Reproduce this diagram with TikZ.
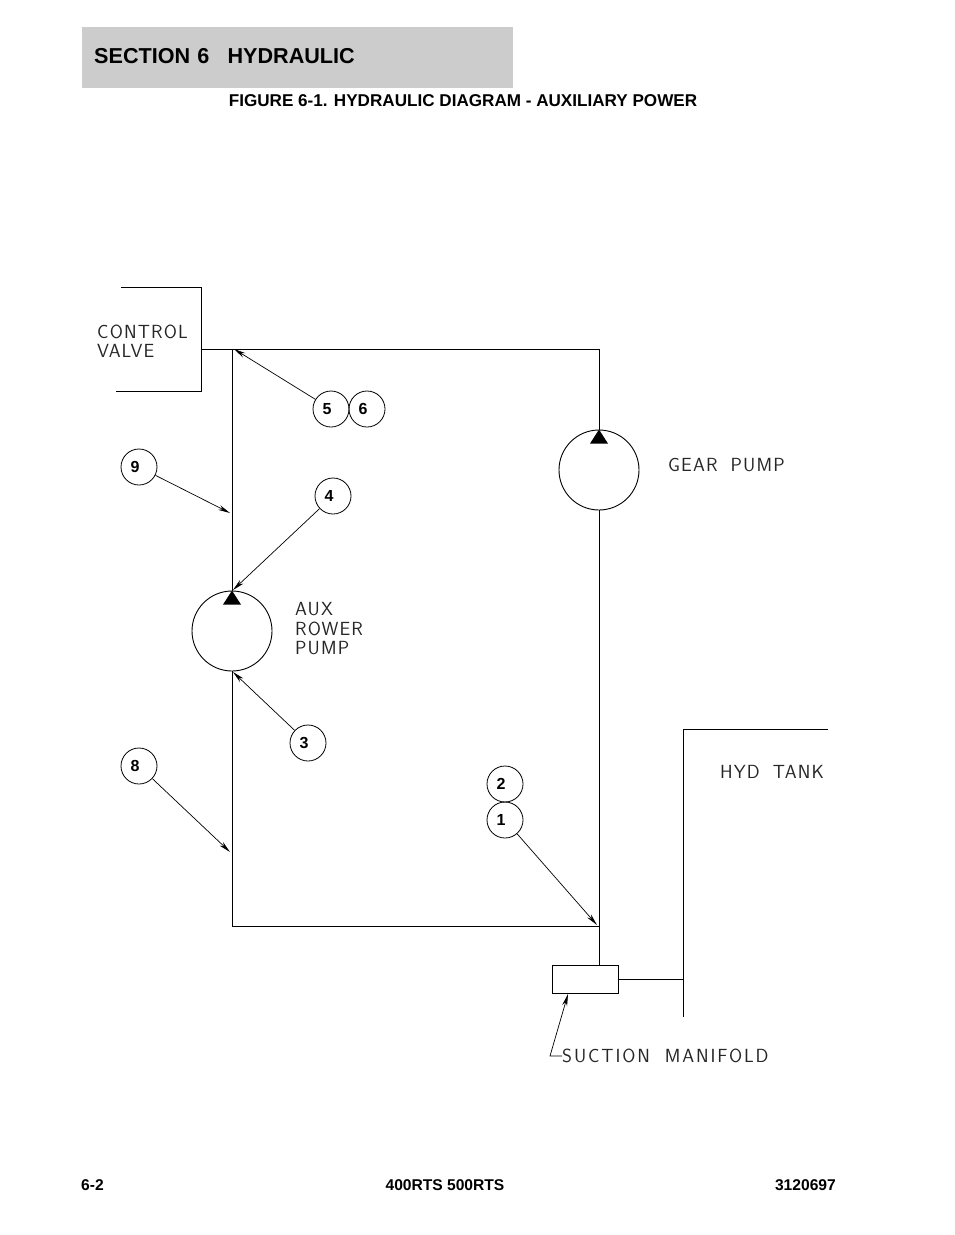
\documentclass[tikz,border=0pt]{standalone}
\usepackage{fontspec}
\setmainfont{Liberation Sans}
\usetikzlibrary{calc, shapes, arrows.meta}

\begin{document}
\begin{tikzpicture}[x=1pt, y=-1pt]
	\tikzstyle{balloon}=[circle, draw, line width=0.8pt, minimum size=36pt, inner sep=0pt,
	font=\bfseries\fontsize{16}{16}\selectfont, execute at end node=\hspace{8pt}]
	\tikzstyle{pump}=[circle, draw, line width=0.9pt, minimum size=80pt, inner sep=0pt]
	\tikzstyle{cadtext}=[align=left, inner sep=0pt, anchor=west, text=black!85,
	font=\fontsize{19}{19.5}\selectfont\fontspec{Latin Modern Sans}\addfontfeature{LetterSpace=6}]
	\tikzstyle{plain}=[inner sep=0pt, font=\bfseries\fontsize{15.6}{16}\selectfont]
	\tikzstyle{pipe}=[line width=0.9pt]
	\tikzstyle{leader}=[line width=0.7pt, -{Stealth[length=12pt, width=5pt]}]
	
	\useasboundingbox (0,0) rectangle (954,1235);
	
	% header and footer
	\node[fill=black!20, anchor=north west, minimum width=431pt, minimum height=61pt,
	inner sep=0pt, text width=431pt, align=left, font=\bfseries\fontsize{21.6}{22}\selectfont]
	at (82,27) (header) {\raisebox{3.5pt}{\hspace*{12pt}SECTION 6\hspace{11pt} HYDRAULIC}};
	\node[plain, font=\bfseries\fontsize{17.1}{17}\selectfont] at (463,101) (title) {FIGURE 6-1. HYDRAULIC DIAGRAM - AUXILIARY POWER};
	\node[plain, anchor=west] at (81,1185) (pagenum) {6-2};
	\node[plain] at (445,1185) (model) {400RTS 500RTS};
	\node[plain, anchor=east] at (836,1185) (partnum) {3120697};
	
	% pumps and manifold
	\node[pump] at (599,470) (gear) {};
	\node[pump] at (232,631) (aux) {};
	\node[rectangle, draw, line width=0.9pt, minimum width=66pt, minimum height=28pt, inner sep=0pt] at (585.5,979) (manifold) {};
	\fill (gear.north) -- ++(9,14) -- ++(-18,0) -- cycle;
	\fill (aux.north) -- ++(9,14) -- ++(-18,0) -- cycle;
	
	% junctions
	\coordinate (valve) at (201,349);
	\coordinate (topleft) at (232,349);
	\coordinate (topright) at (599,349);
	\coordinate (botleft) at (232,926);
	\coordinate (botright) at (599,926);
	\coordinate (tee) at (683,979);
	\coordinate (mantop) at (599,965);
	
	% pipes
	\draw[pipe] (valve) -- (topright) -- (gear.north);
	\draw[pipe] (topleft) -- (aux.north);
	\draw[pipe] (aux.south) -- (botleft) -- (botright);
	\draw[pipe] (gear.south) -- (mantop);
	\draw[pipe] (manifold.east) -- (tee);
	
	% valve and tank outlines
	\draw[pipe] (121,287) -- (201,287) -- (201,391) -- (116,391);
	\draw[pipe] (828,729) -- (683,729) -- (683,1017);
	
	% balloons
	\node[balloon] at (331,409) (b5) {5};
	\node[balloon] at (367,409) (b6) {6};
	\node[balloon] at (139,467) (b9) {9};
	\node[balloon] at (333,496) (b4) {4};
	\node[balloon] at (308,743) (b3) {3};
	\node[balloon] at (139,766) (b8) {8};
	\node[balloon] at (505,784) (b2) {2};
	\node[balloon] at (505,820) (b1) {1};
	
	% leaders
	\coordinate (t9) at (230,513);
	\coordinate (t8) at (230,852);
	\coordinate (t1) at (597,925);
	\coordinate (t4) at (233,590);
	\coordinate (t3) at (233,672);
	\coordinate (t5) at (234,349);
	\coordinate (tm) at (568,994);
	\draw[leader] (b5) -- (t5);
	\draw[leader] (b9) -- (t9);
	\draw[leader] (b4) -- (t4);
	\draw[leader] (b3) -- (t3);
	\draw[leader] (b8) -- (t8);
	\draw[leader] (b1) -- (t1);
	
	% labels
	\node[cadtext] at (97,341) (valvetext) {CONTROL\\VALVE};
	\node[cadtext] at (668,465) (geartext) {GEAR\hspace{6pt} PUMP};
	\node[cadtext] at (295,629) (auxtext) {AUX\\ROWER\\PUMP};
	\node[cadtext] at (720,772) (tanktext) {HYD\hspace{6pt} TANK};
	\node[cadtext, font=\fontsize{19}{19.5}\selectfont\fontspec{Latin Modern Sans}\addfontfeature{LetterSpace=10}] at (562,1056) (mantext) {SUCTION\hspace{7pt} MANIFOLD};
	\draw[leader] (mantext.west) -- ++(-12,0) -- (tm);
	
\end{tikzpicture}
\end{document}
